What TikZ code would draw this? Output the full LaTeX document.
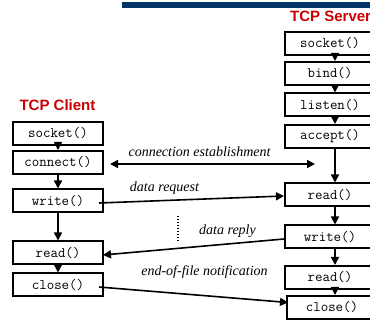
\documentclass[tikz,border=0pt]{standalone}
\usepackage{fontspec}
\setmainfont{Liberation Serif}
\setsansfont{Liberation Sans}
\usetikzlibrary{arrows.meta}
\definecolor{titlered}{RGB}{204,0,0}
\definecolor{barblue}{RGB}{0,51,102}
\tikzset{
 fnbox/.style={draw=black, line width=2pt, minimum width=90pt, minimum height=23pt, inner sep=0pt, font=\fontsize{14.5}{14.5}\selectfont\ttfamily},
 flow/.style={line width=1.6pt, -{Triangle[length=8pt,width=8pt]}},
 both/.style={line width=1.6pt, {Triangle[length=8pt,width=8pt]}-{Triangle[length=8pt,width=8pt]}},
 msg/.style={font=\fontsize{14}{14}\selectfont\rmfamily\itshape, inner sep=0pt},
 title/.style={font=\fontsize{15}{15}\selectfont\sffamily\bfseries, text=titlered, inner sep=0pt},
}
\begin{document}
\begin{tikzpicture}[x=1pt,y=-1pt]
\clip (0,0) rectangle (370,320);
\fill[barblue] (122,2) rectangle (370,8);
% titles
\node[title] (tclient) at (57.5,105) {TCP Client};
\node[title, anchor=west] (tserver) at (290,16) {TCP Server};
% client boxes
\node[fnbox] (csock) at (58,133.5) {socket()};
\node[fnbox] (cconn) at (58,162.5) {connect()};
\node[fnbox] (cwrite) at (58,201) {write()};
\node[fnbox] (cread) at (58,253) {read()};
\node[fnbox] (cclose) at (58,285) {close()};
% server boxes
\node[fnbox] (ssock) at (330,43.5) {socket()};
\node[fnbox] (sbind) at (330,73.5) {bind()};
\node[fnbox] (slisten) at (330,105) {listen()};
\node[fnbox] (saccept) at (330,136.5) {accept()};
\node[fnbox] (sread) at (330,195) {read()};
\node[fnbox] (swrite) at (330,237) {write()};
\node[fnbox] (sread2) at (330,277.5) {read()};
\node[fnbox] (sclose) at (332,307.5) {close()};
% client flow
\draw[flow] (csock) -- (cconn);
\draw[flow] (cconn) -- (cwrite);
\draw[flow] (cwrite) -- (cread);
\draw[flow] (cread) -- (cclose);
% server flow
\coordinate (sx) at (335,0);
\draw[flow] (ssock.south -| sx) -- (sbind.north -| sx);
\draw[flow] (sbind.south -| sx) -- (slisten.north -| sx);
\draw[flow] (slisten.south -| sx) -- (saccept.north -| sx);
\draw[flow] (saccept.south -| sx) -- (sread.north -| sx);
\draw[flow] (sread.south -| sx) -- (swrite.north -| sx);
\draw[flow] (swrite.south -| sx) -- (sread2.north -| sx);
\draw[flow] (sread2.south -| sx) -- (sclose.north -| sx);
% messages
\coordinate (ceL) at (110,164);
\coordinate (ceR) at (315,164);
\draw[both] (ceL) -- (ceR);
\node[msg] (lce) at (199.5,152) {connection establishment};
\draw[flow] ([xshift=-5pt,yshift=-2pt]cwrite.east) -- ([yshift=-1pt]sread.west);
\node[msg] (ldreq) at (164.5,188) {data request};
\draw[flow] ([yshift=-2pt]swrite.west) -- ([xshift=-1pt,yshift=-2pt]cread.east);
\node[msg] (ldrep) at (227.5,231) {data reply};
\draw[flow] ([xshift=-5pt,yshift=-2pt]cclose.east) -- ([xshift=2pt,yshift=5pt]sclose.west);
\node[msg] (leof) at (204.5,272) {end-of-file notification};
\coordinate (dotA) at (178,216);
\coordinate (dotB) at (178,241);
\draw[line width=1.5pt, dash pattern=on 1.5pt off 1.5pt] (dotA) -- (dotB);
\end{tikzpicture}
\end{document}
